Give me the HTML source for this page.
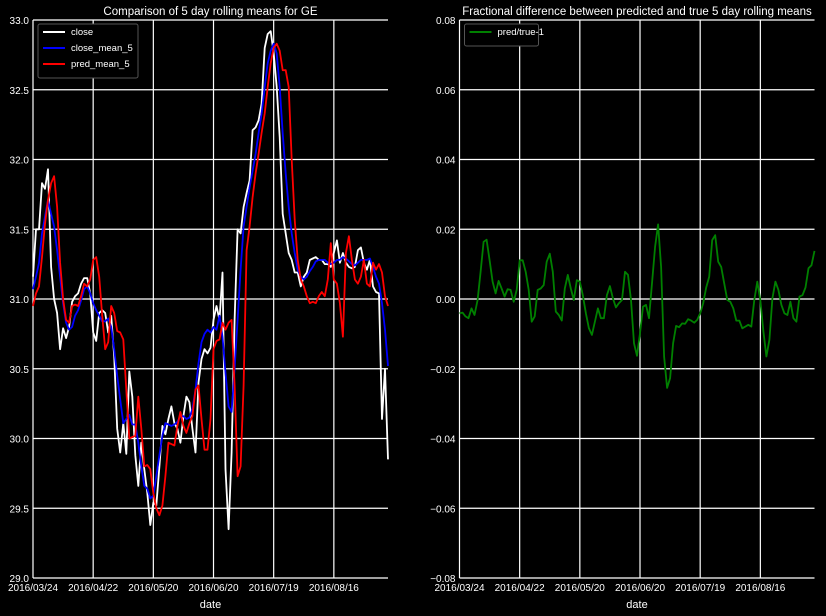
<!DOCTYPE html>
<html><head><meta charset="utf-8"><style>
html,body{margin:0;padding:0;background:#000;}
svg{display:block;font-family:"Liberation Sans",sans-serif;}
</style></head><body>
<svg id="c" width="826" height="616" xmlns="http://www.w3.org/2000/svg">
<rect width="826" height="616" fill="#000"/>
<g id="left"></g>
<g id="right"></g>
</svg>
<script>
const dateTicks = ["2016/03/24","2016/04/22","2016/05/20","2016/06/20","2016/07/19","2016/08/16"];
const tickIdx = [0,20,40,60,80,100];
const leftYTicks = [29.0,29.5,30.0,30.5,31.0,31.5,32.0,32.5,33.0];
const rightYTicks = [-0.08,-0.06,-0.04,-0.02,0.00,0.02,0.04,0.06,0.08];
const close = [31.16,31.50,31.50,31.83,31.79,31.93,31.23,31.00,30.90,30.64,30.79,30.72,30.80,30.98,31.02,31.04,31.11,31.15,31.15,31.04,30.76,30.70,30.90,30.92,30.90,30.76,30.88,30.59,30.07,29.90,30.11,29.89,30.48,30.30,29.88,29.66,29.97,29.78,29.61,29.38,29.54,29.52,29.80,30.09,30.03,30.14,30.23,30.11,30.07,29.97,30.16,30.30,30.26,30.07,29.90,30.40,30.57,30.64,30.61,30.65,30.85,30.95,30.85,31.19,29.78,29.35,29.90,30.85,31.50,31.47,31.66,31.76,31.85,32.21,32.23,32.28,32.40,32.80,32.90,32.92,32.76,32.52,32.16,31.61,31.47,31.33,31.28,31.19,31.19,31.09,31.16,31.19,31.28,31.29,31.30,31.28,31.28,31.25,31.25,31.23,31.33,31.42,31.26,31.33,31.26,31.23,31.22,31.23,31.35,31.37,31.26,31.21,31.28,31.09,31.05,31.04,30.14,30.50,29.85];
const closeMean5 = [31.07,31.16,31.26,31.47,31.59,31.71,31.61,31.52,31.35,31.16,30.97,30.83,30.78,30.80,30.88,30.92,30.99,31.07,31.09,31.04,30.97,30.92,30.88,30.84,30.84,30.86,30.80,30.64,30.45,30.28,30.11,30.14,30.17,30.10,30.10,29.97,29.80,29.66,29.64,29.57,29.59,29.73,29.88,30.02,30.11,30.10,30.09,30.10,30.12,30.16,30.16,30.14,30.15,30.21,30.35,30.54,30.69,30.75,30.78,30.76,30.80,30.78,30.88,30.73,30.47,30.23,30.19,30.50,30.85,31.21,31.52,31.66,31.80,31.92,32.04,32.19,32.33,32.52,32.69,32.78,32.83,32.76,32.52,32.19,31.90,31.66,31.47,31.33,31.21,31.16,31.14,31.16,31.20,31.23,31.27,31.28,31.28,31.28,31.26,31.25,31.26,31.28,31.28,31.30,31.29,31.27,31.25,31.24,31.26,31.28,31.28,31.28,31.29,31.23,31.16,31.11,30.97,30.78,30.52];
const predMean5 = [30.95,31.04,31.09,31.30,31.54,31.71,31.83,31.88,31.66,31.26,31.00,30.85,30.83,30.95,30.96,30.95,31.02,31.11,31.09,31.14,31.28,31.30,31.16,30.88,30.64,30.69,30.95,30.90,30.77,30.76,30.71,30.35,30.00,30.01,30.02,30.30,30.07,29.80,29.81,29.78,29.61,29.50,29.45,29.52,29.73,29.97,29.96,29.95,30.09,30.19,30.09,30.04,30.11,30.16,30.35,30.38,30.14,29.92,29.92,30.14,30.64,30.70,30.71,30.83,30.78,30.83,30.85,30.38,29.73,29.80,30.38,31.35,31.52,31.73,31.90,32.04,32.19,32.33,32.52,32.69,32.80,32.83,32.78,32.64,32.64,32.52,32.00,31.57,31.28,31.14,31.09,31.02,30.97,30.98,30.97,31.02,31.05,31.02,31.14,31.40,31.14,31.11,30.97,30.73,31.33,31.45,31.28,31.14,31.11,31.16,31.28,31.11,31.09,31.26,31.21,31.25,31.19,31.02,30.95];
const fracDiff = [-0.0041,-0.0039,-0.0050,-0.0055,-0.0027,-0.0046,-0.0003,0.0078,0.0164,0.0170,0.0111,0.0050,0.0016,0.0052,0.0030,0.0007,0.0028,0.0026,-0.0008,0.0026,0.0111,0.0111,0.0078,0.0026,-0.0065,-0.0050,0.0026,0.0030,0.0040,0.0107,0.0130,0.0078,-0.0036,-0.0046,-0.0062,0.0030,0.0069,0.0030,-0.0003,0.0054,0.0050,0.0011,-0.0041,-0.0084,-0.0103,-0.0065,-0.0027,-0.0055,-0.0055,0.0011,0.0037,0.0002,-0.0024,-0.0012,-0.0003,0.0078,0.0069,-0.0003,-0.0127,-0.0163,-0.0098,-0.0022,-0.0017,-0.0055,0.0045,0.0150,0.0214,0.0092,-0.0165,-0.0255,-0.0227,-0.0127,-0.0077,-0.0081,-0.0070,-0.0071,-0.0058,-0.0062,-0.0068,-0.0060,-0.0041,-0.0012,0.0033,0.0064,0.0169,0.0183,0.0107,0.0092,0.0045,-0.0003,-0.0008,-0.0027,-0.0062,-0.0062,-0.0084,-0.0079,-0.0074,-0.0079,-0.0003,0.0050,-0.0003,-0.0093,-0.0165,-0.0117,0.0002,0.0050,0.0026,-0.0017,-0.0041,-0.0046,-0.0008,-0.0055,-0.0065,0.0007,0.0011,0.0033,0.0088,0.0097,0.0138];

const NS="http://www.w3.org/2000/svg";
const N = close.length;
function mk(tag, attrs, parent){const e=document.createElementNS(NS,tag);for(const k in attrs)e.setAttribute(k,attrs[k]);parent.appendChild(e);return e;}
const TOP=20, BOT=578, W=355;

function panel(g, x0, yMin, yMax, yTicks, fmt, title, series, legend, legendW){
  const xs = i => x0 + i*W/(N-1);
  const ys = v => BOT - (v-yMin)/(yMax-yMin)*(BOT-TOP);
  // grid
  yTicks.forEach(t=>{
    const l=mk('line',{x1:x0,x2:x0+W,y1:ys(t),y2:ys(t),stroke:'#fff','stroke-width':1.2},g);
    
    
    const tx=mk('text',{x:x0-4,y:ys(t)+4,'text-anchor':'end','font-size':10,fill:'#fff'},g);
    tx.textContent=fmt(t);
    
    
  });
  tickIdx.forEach((ti,k)=>{
    const l=mk('line',{x1:xs(ti),x2:xs(ti),y1:TOP,y2:BOT,stroke:'#fff','stroke-width':1.2},g);
    
    
    const tx=mk('text',{x:xs(ti),y:591,'text-anchor':'middle','font-size':10,fill:'#fff'},g);
    tx.textContent=dateTicks[k];
    
    
  });
  const xl=mk('text',{x:x0+W/2,y:608,'text-anchor':'middle','font-size':11,fill:'#fff'},g);
  xl.textContent='date';
  
  
  const tt=mk('text',{x:x0+W/2,y:15,'text-anchor':'middle','font-size':11.5,fill:'#fff'},g);
  tt.textContent=title;
  
  
  series.forEach(s=>{
    const d=s.data.map((v,i)=>(i?'L':'M')+xs(i).toFixed(1)+' '+ys(v).toFixed(1)).join(' ');
    const p=mk('path',{d:d,fill:'none',stroke:s.color,'stroke-width':1.8,'stroke-linejoin':'round'},g);
    
    
  });
  // legend
  const lg=mk('g',{},g);
  
  
  mk('rect',{x:x0+5,y:24,width:legendW,height:legend.length*16+6,rx:2,fill:'#000',stroke:'#555','stroke-width':1},lg);
  legend.forEach((s,k)=>{
    const y=35+k*16;
    mk('line',{x1:x0+10,x2:x0+32,y1:y-3,y2:y-3,stroke:s.color,'stroke-width':2},lg);
    const t=mk('text',{x:x0+38,y:y,'font-size':9.5,fill:'#fff'},lg);
    t.textContent=s.label;
    
    
  });
}
const L=[{name:'close-line',data:close,color:'#fff',label:'close'},
         {name:'close-mean-5-line',data:closeMean5,color:'#0000ff',label:'close_mean_5'},
         {name:'pred-mean-5-line',data:predMean5,color:'#ff0000',label:'pred_mean_5'}];
panel(document.getElementById('left'),33,29,33,leftYTicks,v=>v.toFixed(1),
  'Comparison of 5 day rolling means for GE',L,L,100);
const R=[{name:'pred-true-ratio-line',data:fracDiff,color:'#008000',label:'pred/true-1'}];
panel(document.getElementById('right'),459.5,-0.08,0.08,rightYTicks,v=>(v<0?'\u22120':'0')+Math.abs(v).toFixed(2).slice(1),
  'Fractional difference between predicted and true 5 day rolling means',R,R,74);
</script>
</body></html>
